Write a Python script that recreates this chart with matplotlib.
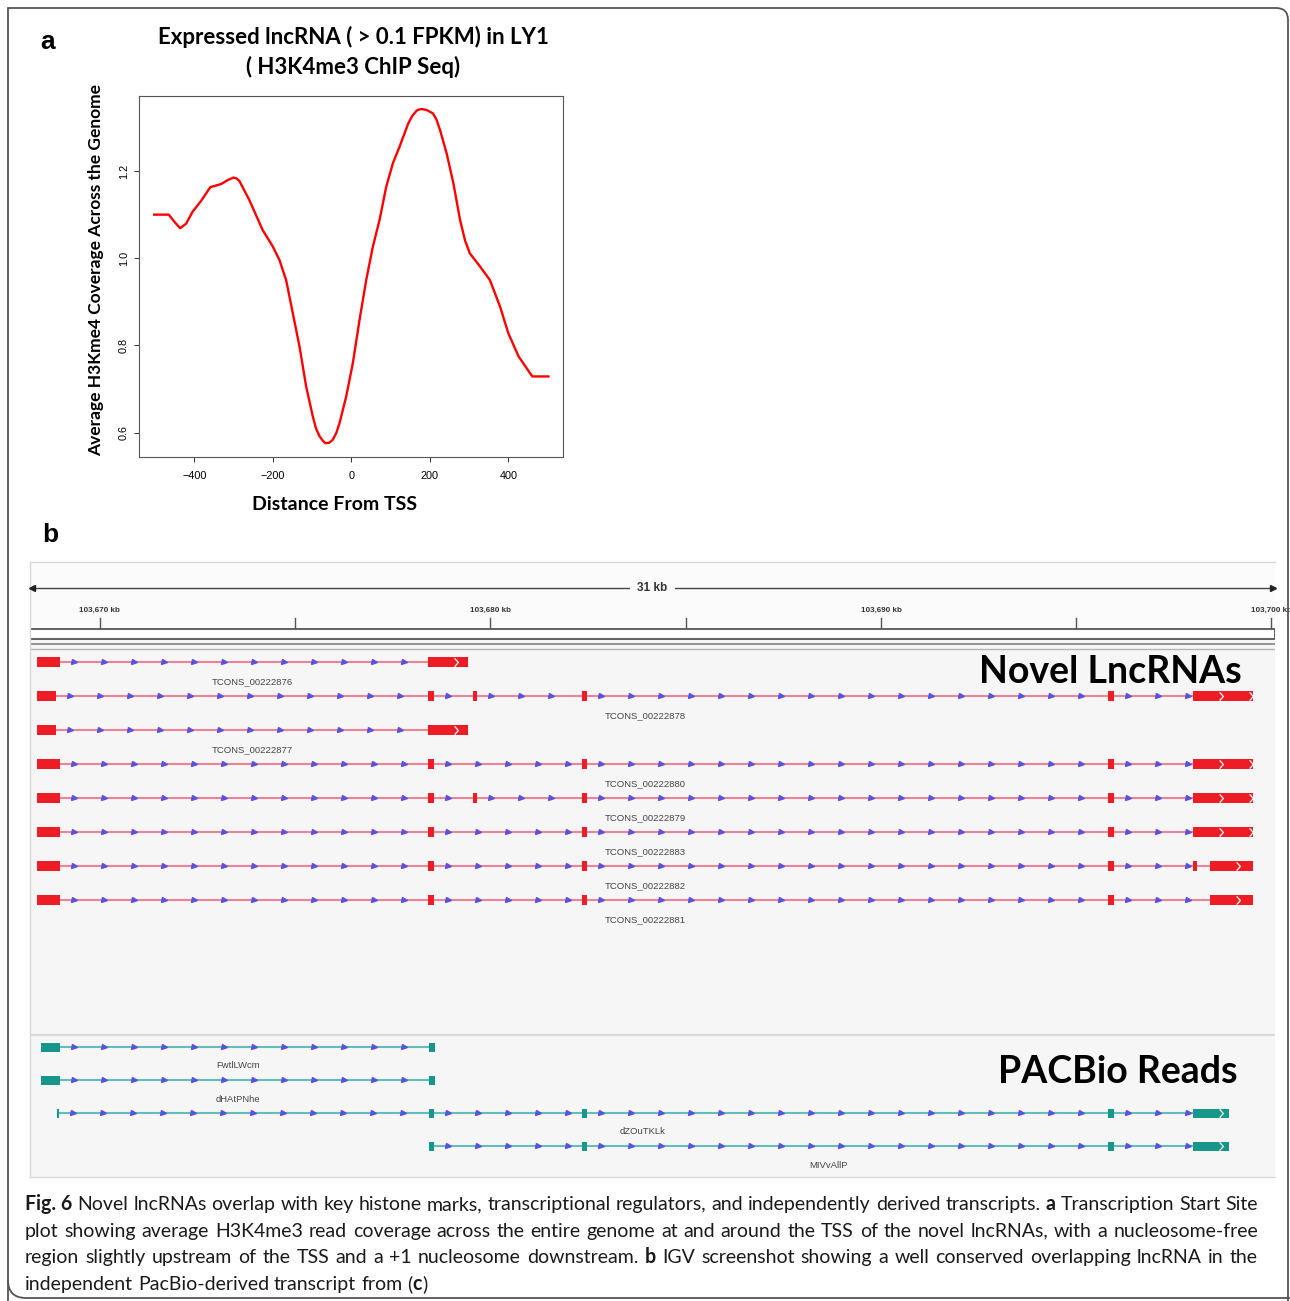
import re
import numpy as np
import matplotlib
matplotlib.use("Agg")
import matplotlib.pyplot as plt
from matplotlib.patches import Rectangle, PathPatch
from matplotlib.path import Path
from matplotlib.transforms import Affine2D

W, H = 1290, 1301

# panel a: average H3K4me3 coverage around the TSS
tss_dist = [-502, -465, -451, -436, -421, -404, -383, -359, -332, -315, -308, -300, -292, -285,
            -260, -226, -200, -183, -166, -149, -132, -115, -98, -90, -81, -72, -66, -56, -47,
            -38, -30, -13, 4, 21, 38, 55, 72, 89, 106, 123, 145, 155, 166, 172, 180, 192, 208,
            217, 226, 243, 260, 277, 290, 302, 328, 353, 379, 400, 426, 461, 502]
coverage = [1.100, 1.100, 1.084, 1.069, 1.079, 1.107, 1.131, 1.163, 1.170, 1.179, 1.182, 1.185,
            1.183, 1.177, 1.134, 1.065, 1.027, 0.996, 0.950, 0.874, 0.798, 0.706, 0.637, 0.610,
            0.592, 0.581, 0.576, 0.577, 0.584, 0.600, 0.622, 0.683, 0.760, 0.859, 0.950, 1.027,
            1.088, 1.164, 1.218, 1.256, 1.309, 1.326, 1.338, 1.341, 1.342, 1.340, 1.332, 1.318,
            1.294, 1.240, 1.172, 1.088, 1.040, 1.011, 0.981, 0.950, 0.889, 0.828, 0.775, 0.729,
            0.729]
a_xticks = [-400, -200, 0, 200, 400]
a_yticks = [0.6, 0.8, 1.0, 1.2]

# panel b: IGV view, coordinates in kb
view_kb = (103668.21, 103700.09)
ruler_major = [103670, 103680, 103690, 103700]
ruler_minor = [103675, 103685, 103695]
span_label = "31 kb"

lnc_names = ["TCONS_00222876", "TCONS_00222878", "TCONS_00222877", "TCONS_00222880",
             "TCONS_00222879", "TCONS_00222883", "TCONS_00222882", "TCONS_00222881"]
lnc_exons = [
    [(103668.387, 103668.976), (103678.399, 103679.424)],
    [(103668.387, 103668.873), (103678.399, 103678.553), (103679.552, 103679.654),
     (103682.343, 103682.471), (103695.813, 103695.967), (103697.990, 103699.526)],
    [(103668.387, 103668.873), (103678.399, 103679.424)],
    [(103668.387, 103668.976), (103678.399, 103678.553), (103682.343, 103682.471),
     (103695.813, 103695.967), (103697.990, 103699.526)],
    [(103668.387, 103668.976), (103678.399, 103678.553), (103679.552, 103679.654),
     (103682.343, 103682.471), (103695.813, 103695.967), (103697.990, 103699.526)],
    [(103668.387, 103668.976), (103678.399, 103678.553), (103682.343, 103682.471),
     (103695.813, 103695.967), (103697.990, 103699.526)],
    [(103668.387, 103668.976), (103678.399, 103678.553), (103682.343, 103682.471),
     (103695.813, 103695.967), (103697.990, 103698.092), (103698.425, 103699.526)],
    [(103668.387, 103668.976), (103678.399, 103678.553), (103682.343, 103682.471),
     (103695.813, 103695.967), (103698.425, 103699.526)],
]

pb_names = ["FwtlLWcm", "dHAtPNhe", "dZOuTKLk", "MIVvAllP"]
pb_exons = [
    [(103668.489, 103668.976), (103678.425, 103678.579)],
    [(103668.489, 103668.976), (103678.425, 103678.579)],
    [(103668.899, 103668.950), (103678.425, 103678.553), (103682.343, 103682.471),
     (103695.813, 103695.967), (103697.990, 103698.912)],
    [(103678.425, 103678.553), (103682.343, 103682.471), (103695.813, 103695.967),
     (103697.990, 103698.912)],
]

caption = [
    "**Fig.~6** Novel lncRNAs overlap with key histone marks, transcriptional regulators, and independently derived transcripts. **a** Transcription Start Site",
    "plot showing average H3K4me3 read coverage across the entire genome at and around the TSS of the novel lncRNAs, with a nucleosome-free",
    "region slightly upstream of the TSS and a +1 nucleosome downstream. **b** IGV screenshot showing a well conserved overlapping lncRNA in the",
    "independent PacBio-derived transcript from (**c**)",
]

ARROW_STEP = 0.768   # IGV strand arrows every ~30 px
ARROW_OFF = 0.36
ARROW_COL = "#5b52dc"


def fx(px):
    return px / W


def fy(py):
    return 1 - py / H


fig = plt.figure(figsize=(W / 100, H / 100), dpi=100)
fig.patch.set_facecolor("white")

# rounded figure frame (pixel coords, y down)
pix = Affine2D().scale(1 / W, -1 / H).translate(0, 1) + fig.transFigure
frame = Path([(8, 1320), (8, 8), (1276, 8), (1288, 8), (1288, 20), (1288, 1320)],
             [Path.MOVETO, Path.LINETO, Path.LINETO, Path.CURVE3, Path.CURVE3, Path.LINETO])
fig.patches.append(PathPatch(frame, transform=pix, fill=False, edgecolor="#555555", lw=1.3))
frame2 = Path([(8, 1280), (8, 1298), (26, 1298), (1300, 1298)],
              [Path.MOVETO, Path.CURVE3, Path.CURVE3, Path.LINETO])
fig.patches.append(PathPatch(frame2, transform=pix, fill=False, edgecolor="#555555", lw=1.3))

# ---------------- panel a ----------------
ax = fig.add_axes([fx(139.3), fy(456.7), (563.3 - 139.3) / W, (456.7 - 96) / H])
ax.plot(tss_dist, coverage, color="#ff0000", lw=1.7, solid_joinstyle="round")
ax.set_xlim(-540, 540)
ax.set_ylim(0.545, 1.372)
ax.set_xticks(a_xticks)
ax.set_yticks(a_yticks)
ax.set_yticklabels([f"{v:.1f}" for v in a_yticks], rotation=90, va="center")
ax.tick_params(length=3.6, width=0.7, color="#333333", labelsize=7.8)
ax.tick_params(axis="x", pad=6.5)
ax.tick_params(axis="y", pad=4)
for lab in ax.get_xticklabels() + ax.get_yticklabels():
    lab.set_family("Liberation Sans")
for s in ax.spines.values():
    s.set_color("#555555")
    s.set_linewidth(0.8)

fig.text(fx(353), fy(37), "Expressed lncRNA ( > 0.1 FPKM) in LY1", ha="center", va="center",
         fontsize=16, fontweight="bold", family="Lato")
fig.text(fx(353), fy(67), "( H3K4me3 ChIP Seq)", ha="center", va="center",
         fontsize=16, fontweight="bold", family="Lato")
fig.text(fx(335), fy(504), "Distance From TSS", ha="center", va="center",
         fontsize=14, fontweight="bold", family="Lato")
fig.text(fx(96), fy(270), "Average H3Kme4 Coverage Across the Genome", ha="center", va="center",
         rotation=90, fontsize=12.5, fontweight="bold", family="Lato")
fig.text(fx(48), fy(42), "a", ha="center", va="center", fontsize=19, fontweight="bold",
         family="Liberation Sans")
fig.text(fx(50), fy(535), "b", ha="center", va="center", fontsize=19, fontweight="bold",
         family="Liberation Sans")

# ---------------- panel b (IGV) ----------------
bx = fig.add_axes([fx(30), fy(1177), (1275 - 30) / W, (1177 - 562) / H])
bx.set_xlim(view_kb)
bx.set_ylim(1177, 562)
bx.set_facecolor("#f6f6f6")
bx.set_xticks([])
bx.set_yticks([])
for k, s in bx.spines.items():
    s.set_color("#d8d8d8")
    s.set_linewidth(1.0)
bx.spines["right"].set_visible(False)

# ruler
bx.axhspan(628, 562, color="#fbfbfb", lw=0, zorder=0)
mid = (view_kb[0] + view_kb[1]) / 2
bx.plot(view_kb, [588, 588], color="#444444", lw=1.0, zorder=2)
bx.plot([view_kb[0] + 0.05], [588], marker="<", ms=4, color="#222222", clip_on=False, zorder=3)
bx.plot([view_kb[1] - 0.05], [588], marker=">", ms=4, color="#222222", clip_on=False, zorder=3)
bx.text(mid, 588, span_label, ha="center", va="center", fontsize=8.5, fontweight="bold",
        family="Liberation Sans", color="#333333", zorder=4,
        bbox=dict(facecolor="#fbfbfb", edgecolor="none", pad=5))
for t in ruler_major:
    bx.plot([t, t], [618, 628], color="#555555", lw=1.0)
    bx.text(t, 610, f"{t:,} kb", ha="center", va="center", fontsize=5.8, fontweight="bold",
            family="Liberation Sans", color="#333333", clip_on=False)
for t in ruler_minor:
    bx.plot([t, t], [618, 628], color="#555555", lw=1.0)
bx.add_patch(Rectangle((view_kb[0], 629), view_kb[1] - view_kb[0], 10, facecolor="white",
                       edgecolor="#555555", lw=1.3, zorder=2))
bx.plot(view_kb, [643.5, 643.5], color="#8c8c8c", lw=1.3)
bx.plot(view_kb, [648.5, 648.5], color="#b4b4b4", lw=1.0)
bx.plot(view_kb, [1035, 1035], color="#dadada", lw=1.5)

chevron = Path([(-0.45, -1), (0.45, 0), (-0.45, 1)], [Path.MOVETO, Path.LINETO, Path.LINETO])


def draw_feature(y, exons, name, exon_col, line_col, h, label_dy):
    start, end = exons[0][0], exons[-1][1]
    bx.plot([start, end], [y, y], color=line_col, lw=1.5, zorder=2, solid_capstyle="butt")
    for (_, b), (c, _) in zip(exons[:-1], exons[1:]):
        xs = np.arange(b + ARROW_OFF, c - 0.1, ARROW_STEP)
        bx.plot(xs, [y] * len(xs), ls="none", marker=">", ms=3.6, color=ARROW_COL,
                mec=ARROW_COL, zorder=3)
    for a, b in exons:
        bx.add_patch(Rectangle((a, y - h / 2), b - a, h, facecolor=exon_col, lw=0, zorder=4))
        if b - a > 0.7:
            xs = np.arange(a + 0.72, b, ARROW_STEP)
            bx.plot(xs, [y] * len(xs), ls="none", marker=chevron, ms=6, mfc="none",
                    mec="white", mew=0.9, zorder=5)
    bx.text((start + end) / 2, y + label_dy, name, ha="center", va="center", fontsize=6.8,
            family="Liberation Sans", color="#444444", zorder=5)


for i, (name, ex) in enumerate(zip(lnc_names, lnc_exons)):
    draw_feature(662 + 34 * i, ex, name, "#ee1c25", "#ee8298", 10, 20)
for i, (name, ex) in enumerate(zip(pb_names, pb_exons)):
    draw_feature(1047 + 33 * i, ex, name, "#17968a", "#63bdbd", 9, 19)

fig.text(fx(1242), fy(672), "Novel LncRNAs", ha="right", va="center", fontsize=27,
         fontweight="bold", family="Lato")
fig.text(fx(1238), fy(1072), "PACBio Reads", ha="right", va="center", fontsize=27,
         fontweight="bold", family="Lato")

# ---------------- caption ----------------
renderer = fig.canvas.get_renderer()
left, right = 25, 1258


def measure(s, bold, fs):
    t = fig.text(0, 0, s, fontsize=fs, family="Lato", fontweight="bold" if bold else "normal")
    w = t.get_window_extent(renderer).width
    t.remove()
    return w


def split_words(line):
    words = []
    for word in line.split(" "):
        segs = []
        for s in re.split(r"(\*\*.+?\*\*)", word):
            if s:
                segs.append((s.strip("*").replace("~", " "), s.startswith("**")))
        words.append(segs)
    return words


# pick the size that makes the first line fill the column with plain spaces
base_fs = 13
w0 = split_words(caption[0])
nat = sum(measure(s, b, base_fs) for w in w0 for s, b in w)
sp0 = measure("x x", False, base_fs) - measure("xx", False, base_fs)
CAP_FS = min(15, base_fs * (right - left) / (nat + sp0 * (len(w0) - 1)))
space_w = measure("x x", False, CAP_FS) - measure("xx", False, CAP_FS)

for li, line in enumerate(caption):
    words = split_words(line)
    widths = [sum(measure(s, b, CAP_FS) for s, b in w) for w in words]
    if li < len(caption) - 1:
        gap = (right - left - sum(widths)) / (len(words) - 1)
    else:
        gap = space_w
    x = left
    base = 1210 + 26.6 * li
    for w, wd in zip(words, widths):
        xx = x
        for s, b in w:
            fig.text(fx(xx), fy(base), s, fontsize=CAP_FS, family="Lato", va="baseline", ha="left",
                     fontweight="bold" if b else "normal", color="#1a1a1a")
            xx += measure(s, b, CAP_FS)
        x += wd + gap

fig.savefig("out.png", dpi=100)
